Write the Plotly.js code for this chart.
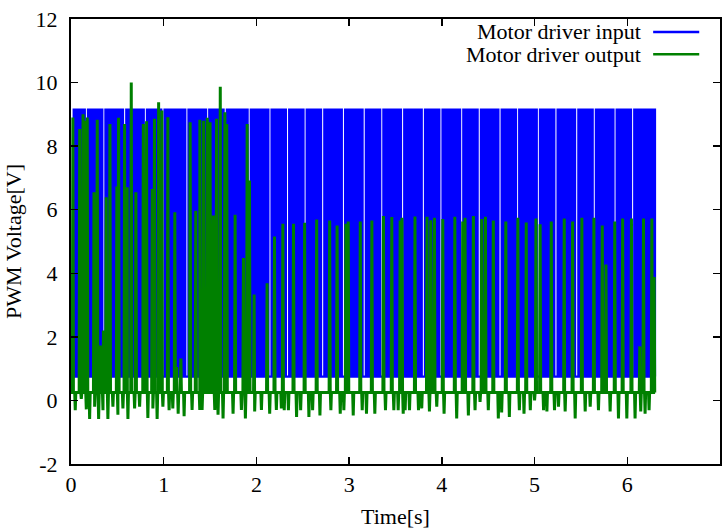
<!DOCTYPE html>
<html>
<head>
<meta charset="utf-8">
<script src="https://cdn.plot.ly/plotly-3.0.1.min.js"></script>
<style>html,body{margin:0;padding:0;background:#fff;}#chart{width:722px;height:531px;}</style>
</head>
<body>
<div id="chart"></div>
<script>
// ---- Motor driver input (PWM): rising-edge times [s], levels [V]
const inputRise = [0.030,0.064,0.099,0.133,0.184,0.218,0.253,0.287,0.322,0.372,0.407,0.441,0.476,0.510,0.545,0.597,0.631,0.666,0.700,0.735,0.769,0.820,0.855,0.889,0.924,0.958,1.010,1.044,1.079,1.113,1.148,1.182,1.217,1.268,1.303,1.337,1.372,1.406,1.441,1.492,1.527,1.561,1.596,1.630,1.682,1.716,1.751,1.785,1.820,1.854,1.889,1.940,1.975,2.009,2.044,2.078,2.113,2.164,2.199,2.233,2.268,2.302,2.354,2.388,2.423,2.457,2.492,2.543,2.578,2.612,2.647,2.681,2.733,2.767,2.802,2.836,2.871,2.905,2.957,2.991,3.026,3.060,3.095,3.129,3.181,3.215,3.250,3.284,3.319,3.370,3.405,3.439,3.474,3.508,3.543,3.595,3.629,3.664,3.698,3.733,3.767,3.819,3.853,3.888,3.922,3.957,4.008,4.043,4.077,4.112,4.146,4.181,4.232,4.267,4.301,4.336,4.370,4.422,4.456,4.491,4.525,4.560,4.594,4.646,4.680,4.715,4.749,4.784,4.835,4.870,4.904,4.939,4.973,5.008,5.059,5.094,5.128,5.163,5.197,5.249,5.283,5.318,5.352,5.387,5.421,5.473,5.507,5.542,5.576,5.611,5.662,5.697,5.731,5.766,5.800,5.835,5.886,5.921,5.955,5.990,6.024,6.076,6.110,6.145,6.179,6.214,6.248,6.283];
const inputHighWidth = 0.015;
const inputHigh = 9.15;
const inputLow = 0.75;

// ---- Motor driver output: spike peaks, dips, baseline
const outPeakT = [0.02,0.094,0.13,0.155,0.175,0.248,0.283,0.316,0.35,0.38,0.42,0.495,0.513,0.578,0.606,0.65,0.70,0.78,0.815,0.876,0.90,0.945,0.98,1.045,1.12,1.14,1.185,1.285,1.346,1.39,1.43,1.47,1.50,1.535,1.57,1.61,1.66,1.68,1.77,1.86,1.90,1.925,1.975,2.115,2.195,2.285,2.40,2.52,2.65,2.79,2.87,2.965,2.99,3.12,3.245,3.37,3.46,3.55,3.57,3.71,3.84,3.88,3.92,4.01,4.14,4.225,4.25,4.34,4.43,4.47,4.555,4.69,4.82,4.91,5.015,5.06,5.18,5.32,5.41,5.51,5.64,5.73,5.77,5.865,5.95,6.045,6.135,6.175,6.265,6.29];
const outPeakV = [8.9,8.54,9.0,8.8,8.9,6.55,8.83,1.73,2.2,6.39,8.7,6.73,8.89,8.7,6.71,10.0,6.55,8.7,8.78,6.65,8.86,9.38,9.12,8.91,5.92,1.05,1.32,8.75,5.97,8.83,8.8,8.89,8.75,5.82,8.86,9.87,9.07,8.7,5.84,4.48,8.7,6.92,3.33,3.69,5.16,5.56,5.56,5.59,5.69,5.66,5.50,5.56,5.63,5.63,5.66,5.80,5.77,5.66,5.75,5.79,5.78,5.67,5.75,5.71,5.78,5.63,5.75,5.80,5.71,5.78,5.66,5.63,5.75,5.60,5.72,5.54,5.63,5.72,5.63,5.75,5.75,5.50,4.28,5.63,5.72,5.72,1.70,5.72,5.72,3.88];
const outDipT = [0.046,0.111,0.165,0.201,0.255,0.298,0.345,0.398,0.452,0.506,0.56,0.614,0.686,0.74,0.829,0.883,0.929,0.991,1.058,1.098,1.156,1.22,1.306,1.389,1.414,1.551,1.586,1.64,1.748,1.838,1.881,1.981,2.054,2.143,2.215,2.269,2.30,2.345,2.433,2.477,2.566,2.606,2.685,2.803,2.904,2.943,3.044,3.141,3.187,3.277,3.392,3.482,3.529,3.583,3.604,3.651,3.748,3.783,3.866,3.945,4.024,4.16,4.286,4.358,4.412,4.501,4.609,4.645,4.728,4.836,4.886,4.954,5.0,5.097,5.133,5.215,5.258,5.33,5.438,5.546,5.6,5.689,5.815,5.905,5.995,6.084,6.145,6.192,6.235];
const outDipV = [-0.31,0.05,-0.28,-0.58,-0.2,-0.58,-0.31,-0.58,-0.2,-0.45,-0.25,-0.58,-0.25,-0.2,-0.55,-0.25,-0.58,-0.2,-0.31,-0.25,-0.42,-0.5,-0.3,-0.3,-0.3,-0.3,-0.45,-0.57,-0.42,-0.3,-0.57,-0.35,-0.3,-0.42,-0.3,-0.25,-0.31,-0.31,-0.52,-0.31,-0.52,-0.31,-0.47,-0.31,-0.42,-0.31,-0.47,-0.31,-0.42,-0.42,-0.31,-0.31,-0.31,-0.42,-0.31,-0.31,-0.31,-0.25,-0.35,-0.2,-0.42,-0.57,-0.47,-0.31,-0.05,-0.31,-0.57,-0.38,-0.52,-0.31,-0.42,-0.31,0.0,-0.31,-0.35,-0.31,-0.2,-0.35,-0.57,-0.35,-0.2,-0.31,-0.35,-0.57,-0.57,-0.57,-0.35,-0.42,-0.31];
const outBase = 0.25;

// ---- Axis ticks and labels
const xTicks = [0,1,2,3,4,5,6,7];
const yTicks = [-2,0,2,4,6,8,10,12];
const seriesNames = ['Motor driver input','Motor driver output'];
const seriesColors = ['#0000ff','#008000'];

// build input square wave
const inX = [], inY = [];
inputRise.forEach(r => {
  inX.push(r, r, r + inputHighWidth, r + inputHighWidth);
  inY.push(inputLow, inputHigh, inputHigh, inputLow);
});

// build output trace from events
const ev = outPeakT.map((t,i)=>({t, v: outPeakV[i]}))
  .concat(outDipT.map((t,i)=>({t, v: outDipV[i]})))
  .sort((a,b)=>a.t-b.t);
const outX = [0.0], outY = [outBase];
const d = 0.006;
ev.forEach((e,i) => {
  const last = outX[outX.length-1];
  if (e.t - d > last + 0.001) { outX.push(e.t - d); outY.push(outBase); }
  outX.push(e.t); outY.push(e.v);
  const nxt = i < ev.length-1 ? ev[i+1].t : Infinity;
  if (e.t + d < nxt - d - 0.001) { outX.push(e.t + d); outY.push(outBase); }
});

const traces = [
  {x: inX, y: inY, type:'scatter', mode:'lines', name: seriesNames[0],
   line:{color: seriesColors[0], width:2.4, simplify:false}, showlegend:false},
  {x: outX, y: outY, type:'scatter', mode:'lines', name: seriesNames[1],
   line:{color: seriesColors[1], width:3, simplify:false}, showlegend:false}
];

const fontFam = 'Liberation Serif, Times New Roman, serif';
const fs = 22;
const axisCommon = {
  showgrid:false, zeroline:false, showline:true, linecolor:'#000', linewidth:2,
  mirror:'ticks', ticks:'inside', ticklen:7, tickwidth:1.5, tickcolor:'#000',
  tickfont:{family:fontFam, size:fs, color:'#000'}
};

const layout = {
  width:722, height:531,
  margin:{l:71, r:2, t:19, b:67},
  paper_bgcolor:'#fff', plot_bgcolor:'#fff',
  font:{family:fontFam, size:fs, color:'#000'},
  showlegend:false,
  xaxis: Object.assign({}, axisCommon, {
    range:[0,7], tickvals:xTicks, ticktext:xTicks.map(String),
    title:{text:'Time[s]', font:{family:fontFam, size:fs, color:'#000'}, standoff:12}
  }),
  yaxis: Object.assign({}, axisCommon, {
    range:[-2,12], tickvals:yTicks, ticktext:yTicks.map(String), ticklabelstandoff:7,
    title:{text:'PWM Voltage[V]', font:{family:fontFam, size:fs, color:'#000'}, standoff:8}
  }),
  annotations: seriesNames.map((n,i)=>({
    xref:'paper', yref:'paper', x:0.8815, y: i===0 ? 0.971 : 0.921,
    xanchor:'right', yanchor:'middle', showarrow:false, text:n,
    font:{family:fontFam, size:fs, color:'#000'}
  })),
  shapes: seriesColors.map((c,i)=>({
    type:'line', xref:'paper', yref:'paper', x0:0.897, x1:0.968,
    y0: i===0 ? 0.971 : 0.921, y1: i===0 ? 0.971 : 0.921,
    line:{color:c, width:2.5}
  }))
};

Plotly.newPlot('chart', traces, layout, {staticPlot:true, displayModeBar:false});
</script>
</body>
</html>
